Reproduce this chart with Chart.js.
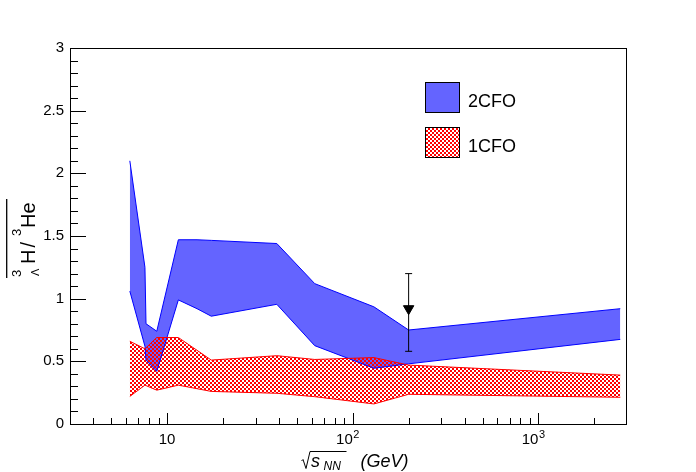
<!DOCTYPE html>
<html>
<head>
<meta charset="utf-8">
<script src="https://cdn.jsdelivr.net/npm/chart.js@4.4.0/dist/chart.umd.min.js"></script>
<style>
  html, body { margin: 0; padding: 0; background: #fff; }
  #wrap { width: 696px; height: 472px; }
</style>
</head>
<body>
<div id="wrap"><canvas id="c" width="696" height="472"></canvas></div>
<script>
// 2CFO band: upper and lower edge
const cfo2X  = [6.3, 7.6, 7.7, 8.8, 11.5, 14.5, 17.3, 39, 62.4, 130, 200, 2760];
const cfo2Hi = [2.10, 1.25, 0.80, 0.74, 1.47, 1.47, 1.465, 1.44, 1.12, 0.935, 0.75, 0.92];
const cfo2Lo = [1.06, 0.62, 0.51, 0.42, 0.99, 0.92, 0.86, 0.955, 0.625, 0.445, 0.48, 0.675];

// 1CFO band
const cfo1X  = [6.3, 7.6, 8.8, 11.5, 17.3, 39, 62.4, 130, 200, 2760];
const cfo1Hi = [0.66, 0.60, 0.69, 0.69, 0.51, 0.545, 0.515, 0.53, 0.47, 0.39];
const cfo1Lo = [0.22, 0.31, 0.27, 0.31, 0.26, 0.245, 0.218, 0.16, 0.237, 0.213];

// measurement
const dataX = [200];
const dataY = [0.92];
const dataErrLo = [0.58];
const dataErrHi = [1.20];

const xTicks = [10, 100, 1000];
const xTickBase = ['10', '10', '10'];
const xTickExp = ['', '2', '3'];
const yTicks = [0, 0.5, 1, 1.5, 2, 2.5, 3];

const FONT = "'Liberation Sans', Arial, Helvetica, sans-serif";

// red checker hatch (red cells, rest transparent)
function makeHatch() {
    var c = document.createElement('canvas');
    c.width = 4; c.height = 4;
    var g = c.getContext('2d');
    g.fillStyle = '#ff0000';
    g.fillRect(0, 0, 2, 2);
    g.fillRect(2, 2, 2, 2);
    return g.createPattern(c, 'repeat');
}
const hatch = makeHatch();

function pts(xs, ys) {
    return xs.map(function(x, i) { return {x: x, y: ys[i]}; });
}

const rootFrame = {
    id: 'rootFrame',
    afterDraw: function(chart) {
        var ctx = chart.ctx, a = chart.chartArea;
        var xs = chart.scales.x, ys = chart.scales.y;
        ctx.save();
        ctx.strokeStyle = '#000';
        ctx.fillStyle = '#000';
        ctx.lineWidth = 1;
        ctx.strokeRect(Math.round(a.left) + 0.5, Math.round(a.top) + 0.5,
                       Math.round(a.right - a.left) - 1, Math.round(a.bottom - a.top));

        // x ticks (inside)
        ctx.beginPath();
        [1, 10, 100, 1000].forEach(function(d) {
            for (var m = 1; m <= 9; m++) {
                var v = m * d;
                if (v <= xs.min || v >= xs.max) continue;
                var px = Math.round(xs.getPixelForValue(v)) + 0.5;
                var len = (m === 1) ? 11 : 6;
                ctx.moveTo(px, a.bottom);
                ctx.lineTo(px, a.bottom - len);
            }
        });
        // y ticks (inside)
        for (var k = 1; k < 30; k++) {
            var py = Math.round(ys.getPixelForValue(k / 10)) + 0.5;
            var ln = (k % 5 === 0) ? 16 : 8;
            ctx.moveTo(a.left, py);
            ctx.lineTo(a.left + ln, py);
        }
        ctx.stroke();

        // x tick labels with exponents
        ctx.textBaseline = 'alphabetic';
        xTicks.forEach(function(v, i) {
            var px = xs.getPixelForValue(v);
            ctx.font = '15px ' + FONT;
            if (!xTickExp[i]) {
                ctx.textAlign = 'center';
                ctx.fillText(xTickBase[i], px, 444);
            } else {
                ctx.textAlign = 'right';
                ctx.fillText(xTickBase[i], px, 444);
                ctx.textAlign = 'left';
                ctx.font = '11px ' + FONT;
                ctx.fillText(xTickExp[i], px + 0.5, 438);
            }
        });
        ctx.textAlign = 'left';

        // y title: anti-hypertriton / anti-helium3 with overline
        ctx.save();
        ctx.translate(35, 277);
        ctx.rotate(-Math.PI / 2);
        ctx.font = '13px ' + FONT;
        ctx.fillText('3', 0, -14);
        ctx.font = '11px ' + FONT;
        ctx.fillText('\u039B', 1, 3.5);
        ctx.font = '20px ' + FONT;
        ctx.fillText('H', 13, 0);
        ctx.fillText('/', 29.5, 0);
        ctx.font = '13px ' + FONT;
        ctx.fillText('3', 41, -14);
        ctx.font = '20px ' + FONT;
        ctx.fillText('He', 49, 0);
        ctx.lineWidth = 1.3;
        ctx.beginPath();
        ctx.moveTo(-1, -28.3);
        ctx.lineTo(78, -28.3);
        ctx.stroke();
        ctx.restore();

        // x title: sqrt(s_NN) (GeV)
        var cx = (a.left + a.right) / 2;
        var x0 = cx - 47;
        ctx.lineWidth = 1;
        ctx.beginPath();
        ctx.moveTo(x0, 461);
        ctx.lineTo(x0 + 1.5, 459.5);
        ctx.lineTo(x0 + 4.5, 468.5);
        ctx.lineTo(x0 + 8.5, 451.5);
        ctx.lineTo(x0 + 45, 451.5);
        ctx.stroke();
        ctx.font = 'italic 18px ' + FONT;
        ctx.fillText('s', x0 + 9.5, 467);
        ctx.font = 'italic 12px ' + FONT;
        ctx.fillText('NN', x0 + 22, 469.5);
        ctx.font = 'italic 18px ' + FONT;
        ctx.fillText('(GeV)', x0 + 59, 467);

        // legend
        var items = chart.data.datasets.filter(function(d) { return d.legendRow !== undefined; })
            .sort(function(p, q) { return p.legendRow - q.legendRow; });
        items.forEach(function(d, i) {
            var by = 82 + i * 45;
            ctx.fillStyle = '#fff';
            ctx.fillRect(425, by, 35, 31);
            ctx.fillStyle = d.backgroundColor;
            ctx.fillRect(425, by, 35, 31);
            ctx.strokeStyle = '#000';
            ctx.lineWidth = 1;
            ctx.strokeRect(425.5, by + 0.5, 34, 30);
            ctx.fillStyle = '#000';
            ctx.font = '18px ' + FONT;
            ctx.textBaseline = 'middle';
            ctx.fillText(d.label, 468, by + 20);
        });
        ctx.restore();
    }
};

new Chart(document.getElementById('c'), {
    type: 'line',
    data: {
        datasets: [
            { label: '1CFO', legendRow: 1, data: pts(cfo1X, cfo1Hi), borderColor: '#ff0000', backgroundColor: hatch,
              borderWidth: 1, pointRadius: 0, fill: '+1', order: 1 },
            { label: '1CFO low', data: pts(cfo1X, cfo1Lo), borderColor: '#ff0000',
              borderWidth: 1, pointRadius: 0, fill: false, order: 1 },
            { label: '2CFO', legendRow: 0, data: pts(cfo2X, cfo2Hi), borderColor: '#0000ff', backgroundColor: '#6464ff',
              borderWidth: 1, pointRadius: 0, fill: '+1', order: 2 },
            { label: '2CFO low', data: pts(cfo2X, cfo2Lo), borderColor: '#0000ff',
              borderWidth: 1, pointRadius: 0, fill: false, order: 2 },
            { label: 'err', data: [{x: dataX[0], y: dataErrLo[0]}, {x: dataX[0], y: dataErrHi[0]}],
              borderColor: '#000', borderWidth: 1, showLine: true, fill: false,
              pointStyle: 'line', pointRadius: 3.5, pointBorderWidth: 1, pointBorderColor: '#000', order: 0 },
            { label: 'data', data: pts(dataX, dataY), showLine: false, fill: false,
              pointStyle: 'triangle', rotation: 180, pointRadius: 6, pointBorderWidth: 1,
              pointBackgroundColor: '#000', pointBorderColor: '#000', order: 0 }
        ]
    },
    options: {
        responsive: false,
        animation: false,
        devicePixelRatio: 1,
        layout: { padding: { top: 48, right: 69, left: 0, bottom: 0 } },
        elements: { line: { tension: 0 } },
        plugins: {
            legend: { display: false },
            tooltip: { enabled: false },
            filler: { drawTime: 'beforeDatasetsDraw' }
        },
        scales: {
            x: {
                type: 'logarithmic', min: 3, max: 3000,
                grid: { display: false, drawTicks: false },
                border: { display: false },
                ticks: { display: false },
                afterBuildTicks: function(s) { s.ticks = xTicks.map(function(v) { return {value: v}; }); },
                afterFit: function(s) { s.height = 48; }
            },
            y: {
                min: 0, max: 3,
                grid: { display: false, drawTicks: false },
                border: { display: false },
                ticks: {
                    color: '#000', font: { family: FONT, size: 15 }, padding: 6,
                    callback: function(v) { return String(v); }
                },
                afterBuildTicks: function(s) { s.ticks = yTicks.map(function(v) { return {value: v}; }); },
                afterFit: function(s) { s.width = 70; }
            }
        }
    },
    plugins: [rootFrame]
});
</script>
</body>
</html>
